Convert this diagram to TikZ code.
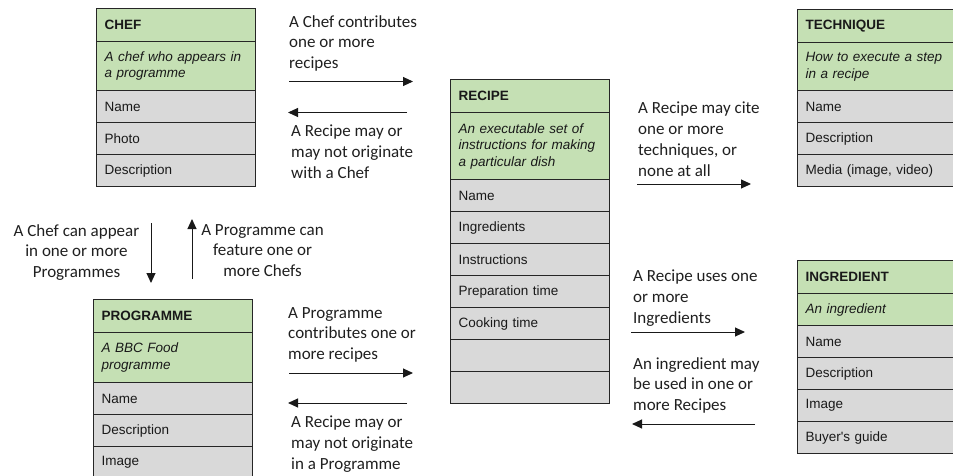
\documentclass[tikz,border=0pt]{standalone}
\usepackage{fontspec}
\setmainfont{Carlito}
\newfontfamily\boxfont{Liberation Sans}
\usetikzlibrary{arrows.meta}
\definecolor{hdgreen}{HTML}{C5E0B4}
\definecolor{rowgray}{HTML}{D9D9D9}

\begin{document}
\begin{tikzpicture}[x=1pt, y=-1pt]
    \tikzstyle{cell} = [draw=black!85, line width=1.2pt, anchor=north west, inner xsep=8pt, inner ysep=0pt, text width=143pt, align=left, text=black!90]
    \tikzstyle{wide} = [text width=160pt]
    \tikzstyle{ttl} = [cell, fill=hdgreen, minimum height=33pt, font=\boxfont\fontsize{13.5}{16.5}\selectfont\bfseries]
    \tikzstyle{dsc} = [cell, fill=hdgreen, font=\boxfont\fontsize{13.5}{16.5}\selectfont\itshape]
    \tikzstyle{fld} = [cell, fill=rowgray, minimum height=32pt, font=\boxfont\fontsize{13.5}{16.5}\selectfont]
    \tikzstyle{lbl} = [anchor=north west, inner sep=0pt, align=left, text=black!88, font=\fontsize{17}{20.8}\selectfont]
    \tikzstyle{lblc} = [lbl, anchor=north, align=center]
    \tikzstyle{arr} = [-{Triangle[length=10pt, width=9pt]}, line width=1pt, black!90]
    \useasboundingbox (0, 0) rectangle (953, 476);
    \clip (0, 0) rectangle (953, 476);
    % chef
    \node[ttl] (chef) at (96, 8) {CHEF};
    \node[dsc, minimum height=49pt] (chefdsc) at (96, 41) {A chef who appears in\\a programme};
    \foreach \txt [count=\i] in {Name, Photo, Description}
      \node[fld] (chef\i) at (96, 90 + 32 * \i - 32) {\txt};
    % programme
    \node[ttl] (prog) at (93, 299) {PROGRAMME};
    \node[dsc, minimum height=50pt] (progdsc) at (93, 332) {A BBC Food\\programme};
    \foreach \txt [count=\i] in {Name, Description, Image}
      \node[fld] (prog\i) at (93, 382 + 32 * \i - 32) {\txt};
    % recipe
    \node[ttl] (recipe) at (450, 79) {RECIPE};
    \node[dsc, minimum height=67pt] (recipedsc) at (450, 112) {An executable set of\\instructions for making\\a particular dish};
    \foreach \txt [count=\i] in {Name, Ingredients, Instructions, Preparation time, Cooking time, \mbox{}, \mbox{}}
      \node[fld] (recipe\i) at (450, 179 + 32 * \i - 32) {\txt};
    % technique
    \node[ttl, wide] (tech) at (797, 9) {TECHNIQUE};
    \node[dsc, wide, minimum height=48pt] (techdsc) at (797, 42) {How to execute a step\\in a recipe};
    \foreach \txt [count=\i] in {Name, Description, {Media (image, video)}}
      \node[fld, wide] (tech\i) at (797, 90 + 32 * \i - 32) {\txt};
    % ingredient
    \node[ttl, wide] (ingr) at (797, 260) {INGREDIENT};
    \node[dsc, wide, minimum height=32pt] (ingrdsc) at (797, 293) {An ingredient};
    \foreach \txt [count=\i] in {Name, Description, Image, Buyer's guide}
      \node[fld, wide] (ingr\i) at (797, 325 + 32 * \i - 32) {\txt};
    % labels
    \node[lbl] (chefrecipe) at (289, 15) {A Chef contributes\\one or more\\recipes};
    \node[lbl] (recipechef) at (291, 125) {A Recipe may or\\may not originate\\with a Chef};
    \node[lblc] (chefprog) at (76.5, 224) {A Chef can appear\\in one or more\\Programmes};
    \node[lblc] (progchef) at (262.5, 224) {A Programme can\\feature one or\\more Chefs};
    \node[lbl] (progrecipe) at (288, 307) {A Programme\\contributes one or\\more recipes};
    \node[lbl] (recipeprog) at (291, 416) {A Recipe may or\\may not originate\\in a Programme};
    \node[lbl] (recipetech) at (638, 102) {A Recipe may cite\\one or more\\techniques, or\\none at all};
    \node[lbl] (recipeingr) at (633, 270) {A Recipe uses one\\or more\\Ingredients};
    \node[lbl] (ingrrecipe) at (633, 357) {An ingredient may\\be used in one or\\more Recipes};
    % arrow ends
    \coordinate (a1) at (289, 81.5);   \coordinate (b1) at (413, 81.5);
    \coordinate (a2) at (407, 112.5);  \coordinate (b2) at (288, 112.5);
    \coordinate (a3) at (151, 223);    \coordinate (b3) at (151, 283);
    \coordinate (a4) at (192, 279);    \coordinate (b4) at (192, 219);
    \coordinate (a5) at (289, 373);    \coordinate (b5) at (413, 373);
    \coordinate (a6) at (407, 403);    \coordinate (b6) at (288, 403);
    \coordinate (a7) at (637, 184);    \coordinate (b7) at (751, 184);
    \coordinate (a8) at (631, 332);    \coordinate (b8) at (745, 332);
    \coordinate (a9) at (755, 424);    \coordinate (b9) at (632, 424);
    \foreach \n in {1, ..., 9}
      \draw[arr] (a\n) -- (b\n);
\end{tikzpicture}
\end{document}
